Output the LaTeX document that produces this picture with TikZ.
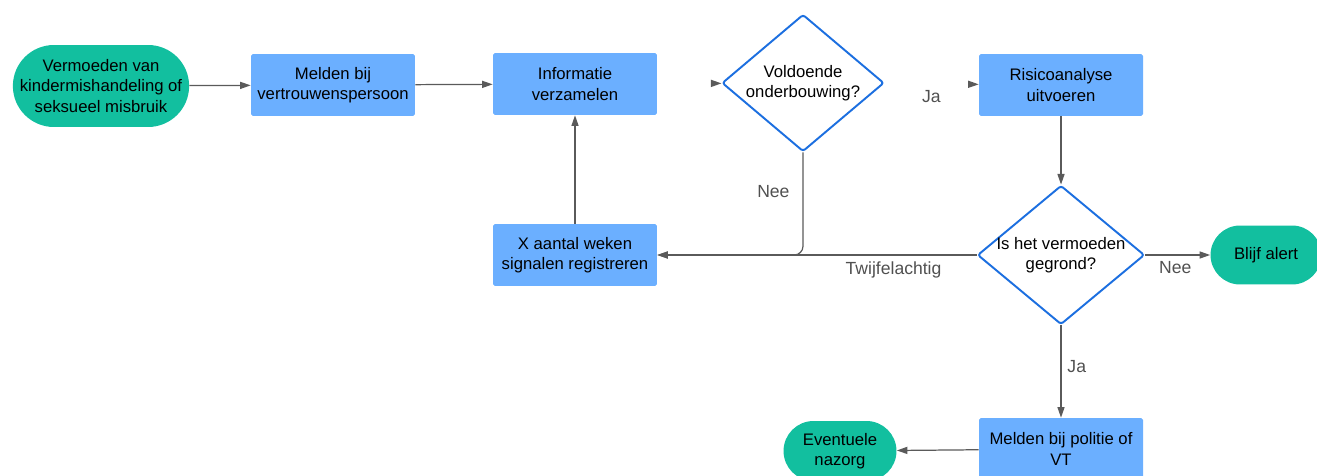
\documentclass[tikz,border=0pt]{standalone}
\usepackage{fontspec}
\setmainfont{Liberation Sans}
\usetikzlibrary{shapes.geometric, shapes.misc, arrows.meta, positioning}
\definecolor{termgreen}{HTML}{12BF9F}
\definecolor{stepblue}{HTML}{6BAFFF}
\definecolor{decblue}{HTML}{1C6FE0}
\definecolor{linegray}{HTML}{5A5A5A}
\definecolor{labelgray}{HTML}{505050}

\begin{document}
\begin{tikzpicture}[x=0.02cm, y=-0.02cm,
  every node/.style={font=\fontsize{9.5}{11.5}\selectfont, align=center},
  terminal/.style={rounded rectangle, fill=termgreen, inner sep=2pt},
  stepbox/.style={rectangle, rounded corners=1pt, fill=stepblue, minimum width=3.28cm, minimum height=1.24cm, inner sep=2pt},
  decision/.style={diamond, draw=decblue, line width=1.1pt, rounded corners=1.5pt, fill=white, aspect=1.2, inner sep=-2.5pt},
  conn/.style={draw=linegray, line width=0.7pt, -{Triangle[length=6pt, width=4pt]}},
  hidden/.style={draw=white, line width=0.7pt, -{Triangle[length=6pt, width=4pt, color=linegray]}},
  edgelabel/.style={font=\fontsize{10}{12}\selectfont, text=labelgray}]
\useasboundingbox (0,0) rectangle (1317,476);

\node[terminal, inner xsep=-1.5pt, minimum width=3.5cm, minimum height=1.64cm] (start) at (101,86) {Vermoeden van\\kindermishandeling of\\seksueel misbruik};
\node[stepbox] (melden) at (333,85) {Melden bij\\vertrouwenspersoon};
\node[stepbox] (info) at (575,84) {Informatie\\verzamelen};
\node[decision, minimum width=3.24cm, minimum height=2.74cm] (onderbouwing) at (803,83) {Voldoende\\onderbouwing?};
\node[stepbox] (risico) at (1061,85) {Risicoanalyse\\uitvoeren};
\node[decision, minimum width=3.34cm, minimum height=2.78cm] (gegrond) at (1061,255) {Is het vermoeden\\gegrond?};
\node[stepbox] (weken) at (575,255) {X aantal weken\\signalen registreren};
\node[terminal, minimum width=2.36cm, minimum height=1.18cm] (alert) at (1266,255) {Blijf alert};
\node[stepbox] (politie) at (1061,449) {Melden bij politie of\\VT};
\node[terminal, minimum width=2.4cm, minimum height=1.2cm] (nazorg) at (840,451) {Eventuele\\nazorg};

\draw[conn] (start) -- (melden);
\draw[conn] (melden) -- (info);
\draw[hidden] (info) -- (onderbouwing);
\draw[hidden] (onderbouwing) -- node[edgelabel, below] (jaeen) {Ja} (risico);
\draw[conn, rounded corners=5] (onderbouwing.south) |- node[edgelabel, pos=0.19, left=4pt] (neeeen) {Nee} (weken.east);
\draw[conn] (weken) -- (info);
\draw[conn] (risico) -- (gegrond);
\draw[conn] (gegrond.west) -- node[edgelabel, pos=0.26, below] (twijfel) {Twijfelachtig} (weken.east);
\draw[conn] (gegrond.east) -- node[edgelabel, pos=0.46, below] (neetwee) {Nee} (alert.west);
\draw[conn] (gegrond.south) -- node[edgelabel, pos=0.45, right] (jatwee) {Ja} (politie.north);
\draw[conn] (politie) -- (nazorg);
\end{tikzpicture}
\end{document}
